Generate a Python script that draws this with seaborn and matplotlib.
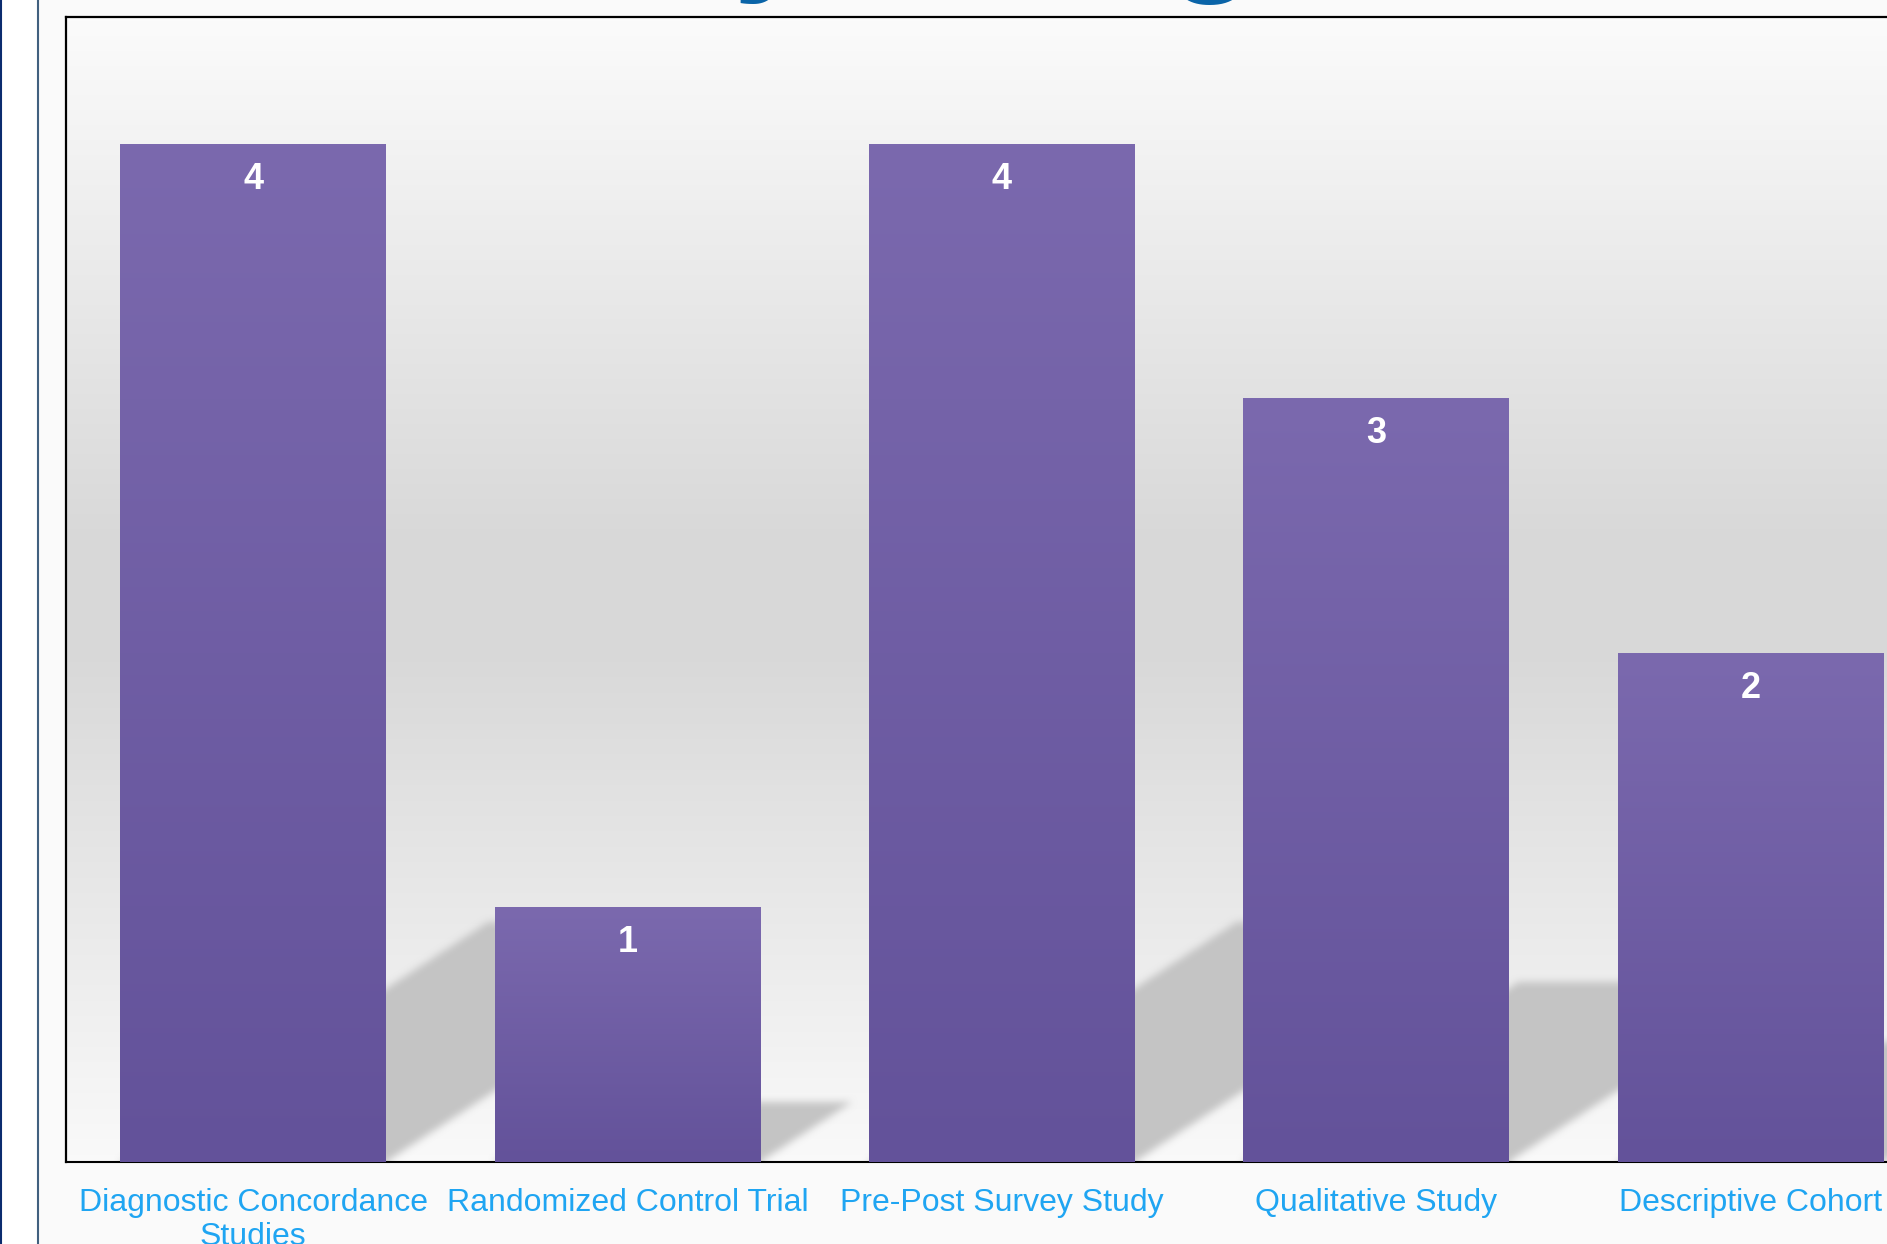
import numpy as np
import pandas as pd
import matplotlib
matplotlib.use("Agg")
import matplotlib.pyplot as plt
import seaborn as sns
from matplotlib.patches import Rectangle
from matplotlib.lines import Line2D
from matplotlib.colors import to_rgb

# ---- data ----
categories = ["Diagnostic Concordance\nStudies", "Randomized Control Trial",
              "Pre-Post Survey Study", "Qualitative Study", "Descriptive Cohort"]
counts = [4, 1, 4, 3, 2]
title_text = "Study Designs"

sns.set_theme(style="white")
plt.rcParams['font.family'] = ['Liberation Sans', 'DejaVu Sans']

W, H = 1887, 1244
fig = plt.figure(figsize=(W / 100, H / 100), dpi=100, facecolor="#FAFAFA")
ax = fig.add_axes([66 / W, (H - 1162) / H, (1938 - 66) / W, (1162 - 17) / H])

df = pd.DataFrame({"category": categories, "count": counts})
sns.barplot(data=df, x="category", y="count", order=categories, ax=ax,
            color="#6E5CA3", width=0.71, saturation=1, zorder=3,
            linewidth=0, edgecolor='none')

XLIM = (-0.5, 4.5)
YLIM = (0, 4.5)

# background gradient of the plot area
t = np.linspace(0, 1, 512)
g = np.interp(t, [0, 0.45, 0.56, 1], [0.985, 0.85, 0.85, 0.978])
bg = np.dstack([g, g, g]).reshape(512, 1, 3)
ax.imshow(bg, extent=[0, 1, 0, 1], transform=ax.transAxes, aspect='auto',
          origin='upper', zorder=0, interpolation='bilinear')
ax.set_facecolor((1, 1, 1, 0))

# cast shadows (derived from bar values)
nx, ny = 1872, 1145
xs = np.linspace(XLIM[0], XLIM[1], nx)
ys = np.linspace(YLIM[0], YLIM[1], ny)
X, Y = np.meshgrid(xs, ys)
mask = np.zeros((ny, nx))
half = 0.355
for i, v in enumerate(counts):
    sdy = 0.236 * v
    sdx = 0.246 * v
    shift = Y / sdy * sdx
    inside = (Y <= sdy) & (X >= i - half + shift) & (X <= i + half + shift)
    mask[inside] = 1.0


def box_blur(a, r, axis):
    pad = [(0, 0), (0, 0)]
    pad[axis] = (r + 1, r)
    ap = np.pad(a, pad, mode='edge')
    c = np.cumsum(ap, axis=axis)
    if axis == 0:
        return (c[2 * r + 1:, :] - c[:-2 * r - 1, :]) / (2 * r + 1)
    return (c[:, 2 * r + 1:] - c[:, :-2 * r - 1]) / (2 * r + 1)


for _ in range(2):
    mask = box_blur(mask, 4, 0)
    mask = box_blur(mask, 4, 1)
sh = np.zeros((ny, nx, 4))
sh[..., :3] = 0.77
sh[..., 3] = np.clip(mask, 0, 1)
ax.imshow(sh, extent=[XLIM[0], XLIM[1], YLIM[0], YLIM[1]], origin='lower',
          aspect='auto', zorder=1, interpolation='bilinear')

# bar gradients
top_c = np.array(to_rgb("#7B69AE"))
bot_c = np.array(to_rgb("#63529A"))
tt = np.linspace(0, 1, 256)[:, None]
grad = (top_c[None, :] * (1 - tt) + bot_c[None, :] * tt).reshape(256, 1, 3)
for p in ax.patches:
    x0, y0, w, h = p.get_x(), p.get_y(), p.get_width(), p.get_height()
    ax.imshow(grad, extent=[x0, x0 + w, y0, y0 + h], origin='upper',
              aspect='auto', zorder=3.5, interpolation='bilinear')

# value labels
for i, v in enumerate(counts):
    ax.annotate(str(v), xy=(i, v), xytext=(0, -35 * 0.72), textcoords='offset points',
                ha='center', va='center', color='white', fontsize=26,
                fontweight='bold', zorder=6)

ax.set_xlim(*XLIM)
ax.set_ylim(*YLIM)
ax.set_yticks([])
ax.set_xticks(range(len(categories)))
ax.set_xticklabels(categories, color='#1FA5F2', fontsize=23, linespacing=1.15)
ax.tick_params(axis='x', length=0, pad=19)
ax.set_xlabel('')
ax.set_ylabel('')
for s in ['left', 'top']:
    ax.spines[s].set_color('black')
    ax.spines[s].set_linewidth(1.6)
ax.spines['bottom'].set_color('black')
ax.spines['bottom'].set_linewidth(1.5)
ax.spines['right'].set_visible(False)

# slide frame decoration on the left
fig.add_artist(Rectangle((0, 0), 37 / W, 1, transform=fig.transFigure,
                         facecolor='white', edgecolor='none', zorder=-1))
fig.add_artist(Line2D([1 / W, 1 / W], [0, 1], transform=fig.transFigure,
                      color='#0B2B6E', lw=1.5))
fig.add_artist(Line2D([37.5 / W, 37.5 / W], [0, 1], transform=fig.transFigure,
                      color='#41607F', lw=1.5))

# title (mostly above the visible area)
fig.text(406 / W, 1 + 26 / H, title_text, ha='left', va='baseline', fontsize=106,
         fontweight='bold', color='#0A64A8')

fig.savefig('out.png', dpi=100, facecolor=fig.get_facecolor())
